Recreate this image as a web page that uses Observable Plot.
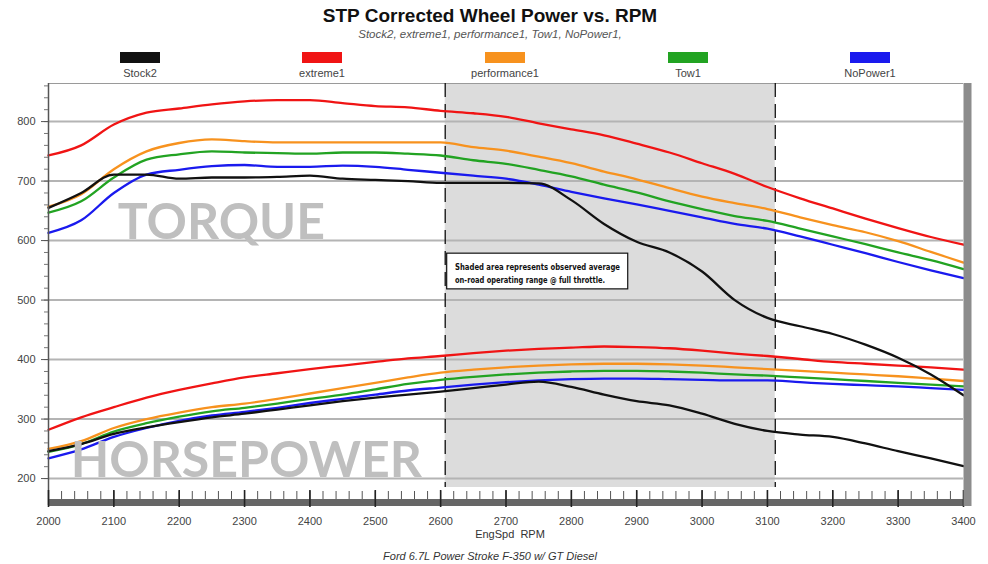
<!DOCTYPE html>
<html><head><meta charset="utf-8">
<script src="https://cdn.jsdelivr.net/npm/d3@7"></script>
<script src="https://cdn.jsdelivr.net/npm/@observablehq/plot@0.6"></script>
<style>
body{margin:0;background:#fff;font-family:"Liberation Sans",Arial,sans-serif;}
#wrap{position:relative;width:988px;height:564px;overflow:hidden;background:#fff;}
.title{position:absolute;left:0;width:980px;text-align:center;top:5px;font-weight:bold;font-size:19px;color:#111;}
.sub{position:absolute;left:0;width:980px;text-align:center;top:28px;font-style:italic;font-size:11.5px;color:#555;}
.leg{position:absolute;top:52px;width:120px;margin-left:-60px;text-align:center;font-size:11px;color:#444;}
.leg .sw{width:40px;height:11px;margin:0 auto 4px auto;}
.xl{position:absolute;left:0;width:1020px;text-align:center;top:528px;font-size:11px;color:#333;}
.cap{position:absolute;left:0;width:980px;text-align:center;top:550px;font-style:italic;font-size:11px;color:#333;}
#chart{position:absolute;left:0;top:80px;}
</style></head><body>
<div id="wrap">
  <div class="title">STP Corrected Wheel Power vs. RPM</div>
  <div class="sub">Stock2, extreme1, performance1, Tow1, NoPower1,</div>
  <div id="legend"></div>
  <div id="chart"></div>
  <div class="xl">EngSpd&nbsp; RPM</div>
  <div class="cap">Ford 6.7L Power Stroke F-350 w/ GT Diesel</div>
</div>
<script>
// ---- data ----
const rpm = [2000,2050,2100,2150,2200,2250,2300,2350,2400,2450,2500,2550,2600,2650,2700,2750,2800,2850,2900,2950,3000,3050,3100,3150,3200,3250,3300,3350,3400];
const seriesNames = ["Stock2","extreme1","performance1","Tow1","NoPower1"];
const seriesColors = ["#111111","#f01414","#f7921e","#22a322","#1a1aee"];

const torqueStock2 = [655,680,711,711,704,706,706,707,709,704,702,700,697,697,697,696,668,628,598,580,548,500,470,456,443,425,403,375,340];
const torqueExtreme1 = [743,760,795,815,822,829,834,836,836,831,826,824,818,814,808,797,787,777,763,748,730,712,690,671,654,637,621,606,593];
const torquePerformance1 = [657,678,720,750,764,770,767,765,765,765,765,765,765,757,751,741,730,716,703,688,674,663,653,639,626,614,599,581,563];
const torqueTow1 = [647,666,706,736,745,750,748,747,746,748,748,746,743,735,729,719,708,694,681,666,653,641,633,620,607,594,580,567,552];
const torqueNoPower1 = [613,634,680,711,719,725,727,724,724,726,724,719,714,709,704,694,682,671,661,650,639,628,620,607,593,579,564,550,537];

const hpStock2 = [246,258,275,286,295,303,309,316,323,330,336,341,346,352,358,363,354,341,330,323,309,292,280,274,270,259,246,234,221];
const hpExtreme1 = [282,303,320,336,349,360,370,377,384,390,396,402,406,411,415,418,420,422,421,419,415,410,406,401,396,393,390,387,383];
const hpPerformance1 = [250,263,285,300,311,320,326,334,343,352,361,370,378,383,387,390,392,393,393,392,390,387,384,381,378,375,372,368,364];
const hpTow1 = [245,258,279,293,304,313,319,326,334,341,350,359,366,371,375,378,380,381,381,380,378,375,373,370,367,364,361,358,355];
const hpNoPower1 = [234,249,270,285,297,306,312,319,327,334,341,348,353,358,362,365,367,368,368,367,366,365,365,362,359,357,355,352,349];

const xMajorTicks = [2000,2100,2200,2300,2400,2500,2600,2700,2800,2900,3000,3100,3200,3300,3400];
const yMajorTicks = [200,300,400,500,600,700,800];
const shade = [{from: 2607, to: 3112}];
const noteLines = ["Shaded area represents observed average","on-road operating range @ full throttle."];
const watermarks = [{text: "TORQUE", rpm: 2106, value: 603},{text: "HORSEPOWER", rpm: 2034, value: 202}];

// ---- build ----
const torque = [torqueStock2, torqueExtreme1, torquePerformance1, torqueTow1, torqueNoPower1];
const hp = [hpStock2, hpExtreme1, hpPerformance1, hpTow1, hpNoPower1];
const rows = [];
[["Torque", torque], ["HP", hp]].forEach(([kind, arrs]) => {
  arrs.forEach((vals, i) => vals.forEach((v, j) => rows.push({rpm: rpm[j], value: v, series: seriesNames[i], key: kind + seriesNames[i]})));
});
const order = ["NoPower1","Tow1","performance1","extreme1","Stock2"];
rows.sort((a,b) => order.indexOf(a.series) - order.indexOf(b.series));

const yDomain = [185, 864];
const H = 470, mTop = 3, mBottom = 63;
const frameH = H - mTop - mBottom;
const minorX = d3.range(2000, 3401, 20);
const minorY = d3.range(200, 861, 20);

const box = [{x1: 2610, x2: 2887, y1: 518, y2: 578}];
const noteRows = noteLines.map((t, i) => ({text: t, rpm: 2622, value: i === 0 ? 556 : 533, len: i === 0 ? 165 : 150}));

const chart = Plot.plot({
  width: 988, height: H,
  marginLeft: 48, marginRight: 25, marginTop: mTop, marginBottom: mBottom,
  x: {domain: [2000, 3400], tickFormat: "d"},
  y: {domain: yDomain},
  color: {domain: seriesNames, range: seriesColors},
  style: {fontFamily: "Liberation Sans, Arial, sans-serif", fontSize: "11px", color: "#444", background: "transparent", overflow: "visible"},
  marks: [
    Plot.rect(shade, {x1: "from", x2: "to", fill: "#dcdcdc"}),
    Plot.gridY(yMajorTicks, {stroke: "#b4b4b4", strokeOpacity: 1, strokeWidth: 2}),
    Plot.ruleY([yDomain[1]], {stroke: "#9a9a9a", strokeWidth: 1}),
    Plot.ruleX(shade.flatMap(d => [d.from, d.to]), {stroke: "#111", strokeWidth: 1.3, strokeDasharray: "14,7"}),
    Plot.rect(box, {x1: "x1", x2: "x2", y1: "y1", y2: "y2", fill: "white", stroke: "#111", strokeWidth: 1.2}),
    Plot.text(noteRows, {x: "rpm", y: "value", text: "text", textAnchor: "start", fontSize: 9.5, fontWeight: "bold", fontFamily: "DejaVu Sans Condensed, Liberation Sans Narrow, sans-serif", fill: "#111", className: "note"}),
    Plot.line(rows, {x: "rpm", y: "value", z: "key", stroke: "series", strokeWidth: 2.3, curve: "monotone-x"}),
    Plot.text(watermarks, {x: "rpm", y: "value", text: "text", textAnchor: "start", lineAnchor: "bottom", fontSize: 50, fontWeight: "bold", fontFamily: "Lato, Open Sans, sans-serif", fill: "#bfbfbf"}),
    // y axis
    Plot.ruleX([2000], {stroke: "#555", strokeWidth: 1.5, insetBottom: -18}),
    Plot.axisY(minorY, {tickSize: 4, text: null, stroke: "#777"}),
    Plot.axisY(yMajorTicks, {tickSize: 7, tickPadding: 6, fontSize: 11, fill: "#444", stroke: "#555", label: null}),
    // x axis band and ticks
    Plot.ruleY([yDomain[0]], {dy: 15, stroke: "#666", strokeWidth: 7}),
    Plot.ruleX(minorX, {insetTop: frameH + 4, insetBottom: -12, stroke: "#555", strokeWidth: 1}),
    Plot.ruleX(xMajorTicks, {insetTop: frameH + 3, insetBottom: -20, stroke: "#222", strokeWidth: 1.6}),
    Plot.axisX(xMajorTicks, {tickSize: 0, tickPadding: 30, fontSize: 11, fill: "#444", label: null, tickFormat: "d"}),
    Plot.ruleX([3400], {dx: 4, stroke: "#8c8c8c", strokeWidth: 8, insetBottom: -19})
  ]
});
document.getElementById("chart").appendChild(chart);
// condense the annotation text to fit its box
chart.querySelectorAll("g.note text").forEach((t, i) => {
  t.setAttribute("textLength", noteRows[i].len);
  t.setAttribute("lengthAdjust", "spacingAndGlyphs");
});

// legend
const leg = document.getElementById("legend");
const legCenters = [140, 322, 505, 688, 870];
seriesNames.forEach((n, i) => {
  const d = document.createElement("div");
  d.className = "leg";
  d.style.left = legCenters[i] + "px";
  d.innerHTML = `<div class="sw" style="background:${seriesColors[i]}"></div>${n}`;
  leg.appendChild(d);
});
</script>
</body></html>
